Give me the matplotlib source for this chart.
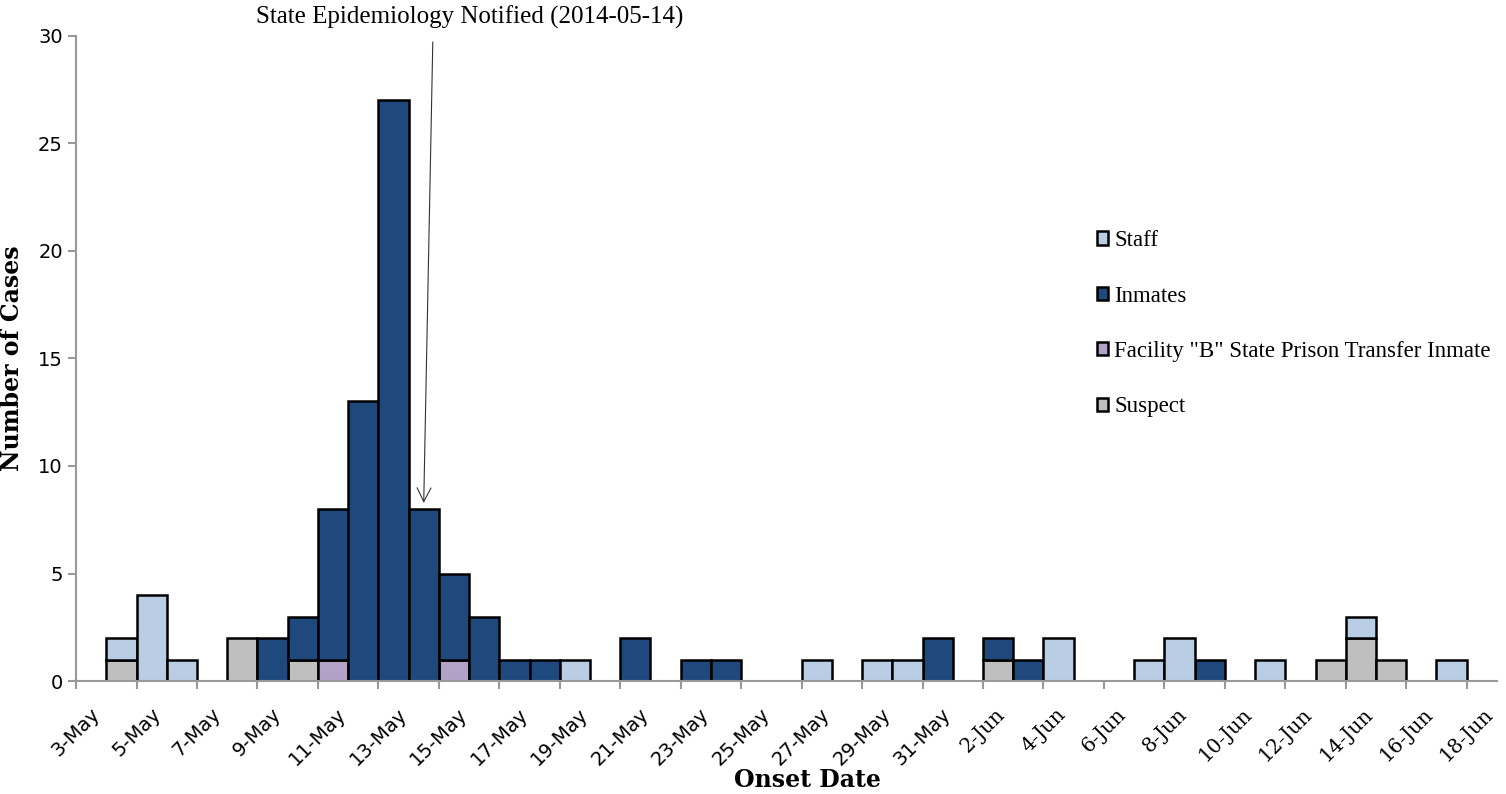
import matplotlib
matplotlib.use("Agg")
import matplotlib.pyplot as plt
import numpy as np
from matplotlib.patches import Patch

# Days: bars start at 4-May (index 0) through 17-Jun (index 44)
day_labels = [f"{d}-May" for d in range(4, 32)] + [f"{d}-Jun" for d in range(1, 18)]

#            May 4 .. 31 (28 values)                                                   | Jun 1 .. 17 (17 values)
staff      = [1, 4, 1, 0, 0, 0, 0, 0, 0, 0, 0, 0, 0, 0, 0, 1, 0, 0, 0, 0, 0, 0, 0, 1, 0, 1, 1, 0,
              0, 0, 0, 2, 0, 0, 1, 2, 0, 0, 1, 0, 0, 1, 0, 0, 1]
inmates    = [0, 0, 0, 0, 0, 2, 2, 7, 13, 27, 8, 4, 3, 1, 1, 0, 0, 2, 0, 1, 1, 0, 0, 0, 0, 0, 0, 2,
              0, 1, 1, 0, 0, 0, 0, 0, 1, 0, 0, 0, 0, 0, 0, 0, 0]
facility_b = [0, 0, 0, 0, 0, 0, 0, 1, 0, 0, 0, 1, 0, 0, 0, 0, 0, 0, 0, 0, 0, 0, 0, 0, 0, 0, 0, 0,
              0, 0, 0, 0, 0, 0, 0, 0, 0, 0, 0, 0, 0, 0, 0, 0, 0]
suspect    = [1, 0, 0, 0, 2, 0, 1, 0, 0, 0, 0, 0, 0, 0, 0, 0, 0, 0, 0, 0, 0, 0, 0, 0, 0, 0, 0, 0,
              0, 1, 0, 0, 0, 0, 0, 0, 0, 0, 0, 0, 1, 2, 1, 0, 0]

tick_labels = ["3-May", "5-May", "7-May", "9-May", "11-May", "13-May", "15-May", "17-May",
               "19-May", "21-May", "23-May", "25-May", "27-May", "29-May", "31-May",
               "2-Jun", "4-Jun", "6-Jun", "8-Jun", "10-Jun", "12-Jun", "14-Jun", "16-Jun", "18-Jun"]

c_staff = "#b9cde5"
c_inm = "#1f497d"
c_fac = "#b3a2c7"
c_sus = "#bfbfbf"

fig = plt.figure(figsize=(15.06, 7.94), dpi=100)
ax = fig.add_axes([0.0505, 0.1423, 0.9435, 0.8124])

x = np.arange(1, len(day_labels) + 1)  # 3-May = 0
s = np.array(suspect); f = np.array(facility_b); i = np.array(inmates); st = np.array(staff)
kw = dict(width=1.0, align="edge", edgecolor="black", linewidth=1.8)
def bars(vals, bottom, color):
    m = vals > 0
    ax.bar(x[m], vals[m], bottom=bottom[m], color=color, **kw)
zero = np.zeros(len(x))
bars(s, zero, c_sus)
bars(f, s, c_fac)
bars(i, s + f, c_inm)
bars(st, s + f + i, c_staff)

ax.set_xlim(0, 47)
ax.set_ylim(0, 30)
ax.set_yticks(range(0, 31, 5))
ax.set_yticklabels([str(v) for v in range(0, 31, 5)], family="DejaVu Sans", fontsize=14)
ticks = np.arange(0, 47, 2)
ax.set_xticks(ticks)
ax.set_xticklabels(tick_labels, rotation=45, ha="center", va="top", fontsize=13.5)
for lab in ax.get_xticklabels():
    if "May" in lab.get_text():
        lab.set_family("DejaVu Sans")
        lab.set_fontsize(14)
    else:
        lab.set_family("DejaVu Serif")
        lab.set_fontsize(14.5)

for sp in ["top", "right"]:
    ax.spines[sp].set_visible(False)
for sp in ["left", "bottom"]:
    ax.spines[sp].set_color("#999999")
    ax.spines[sp].set_linewidth(1.5)
ax.tick_params(axis="both", direction="out", color="#999999", width=1.5, length=6)
ax.tick_params(axis="x", pad=11)

ax.set_ylabel("Number of Cases", family="DejaVu Serif", fontweight="bold", fontsize=17, labelpad=10)
ax.set_xlabel("Onset Date", family="DejaVu Serif", fontweight="bold", fontsize=17, va="center")
ax.xaxis.set_label_coords(0.515, -0.1535)

ax.text(13.03, 31.4, "State Epidemiology Notified (2014-05-14)", ha="center", va="top",
        fontsize=18, family="Liberation Serif", clip_on=False)
ax.annotate("", xy=(11.5, 8.28), xytext=(11.8, 29.72),
            arrowprops=dict(arrowstyle="->", color="#333333", lw=0.8, mutation_scale=25,
                            shrinkA=0, shrinkB=0),
            annotation_clip=False)

handles = [Patch(facecolor=c_staff, edgecolor="black", linewidth=1.8),
           Patch(facecolor=c_inm, edgecolor="black", linewidth=1.8),
           Patch(facecolor=c_fac, edgecolor="black", linewidth=1.8),
           Patch(facecolor=c_sus, edgecolor="black", linewidth=1.8)]
labels = ["Staff", "Inmates", 'Facility "B" State Prison Transfer Inmate', "Suspect"]
ax.legend(handles, labels, loc="upper left", bbox_to_anchor=(0.7185, 0.699), frameon=False,
          prop=dict(family="Liberation Serif", size=16.5), handlelength=0.5, handleheight=0.5,
          handletextpad=0.25, labelspacing=1.5, borderaxespad=0, borderpad=0)

fig.savefig("out.png", dpi=100)
